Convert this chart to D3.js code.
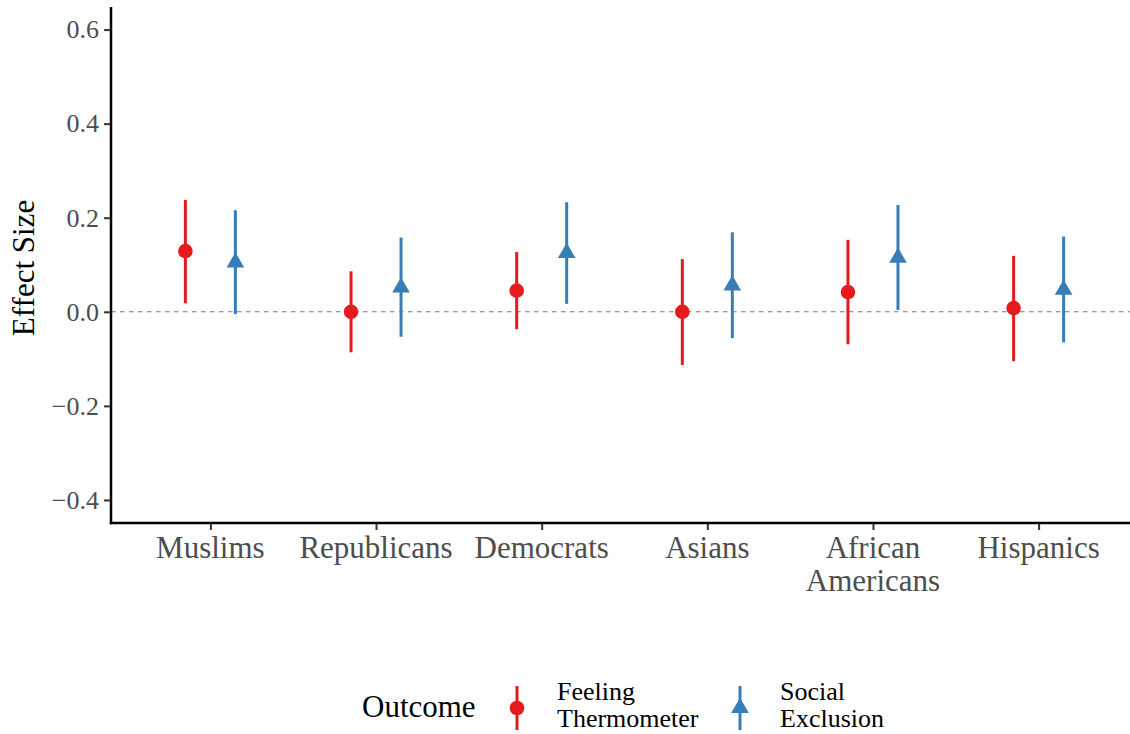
<!DOCTYPE html>
<html>
<head>
<meta charset="utf-8">
<script src="https://cdn.jsdelivr.net/npm/d3@7"></script>
<style>
  html, body { margin: 0; padding: 0; background: #fff; }
  svg text { font-family: "Liberation Serif", "Times New Roman", serif !important; }
</style>
</head>
<body>
<svg id="chart" width="1130" height="734"></svg>
<script>
// Target groups and their display labels (two-line label split on \n)
const categories = ["Muslims", "Republicans", "Democrats", "Asians", "African\nAmericans", "Hispanics"];

// Feeling Thermometer: point estimate and confidence bounds
const ftEstimate = [0.129, 0.000, 0.045, 0.000, 0.042, 0.008];
const ftLower    = [0.018, -0.086, -0.037, -0.113, -0.069, -0.105];
const ftUpper    = [0.238, 0.086, 0.127, 0.112, 0.153, 0.119];

// Social Exclusion: point estimate and confidence bounds
const seEstimate = [0.105, 0.052, 0.125, 0.056, 0.115, 0.047];
const seLower    = [-0.005, -0.053, 0.017, -0.056, 0.004, -0.065];
const seUpper    = [0.216, 0.158, 0.233, 0.169, 0.227, 0.160];

const yTicks = [-0.4, -0.2, 0.0, 0.2, 0.4, 0.6];
const seriesNames = ["Feeling\nThermometer", "Social\nExclusion"];
const seriesColors = ["#E41A1C", "#377EB8"];

const svg = d3.select("#chart");
const W = 1130, H = 734;
const panelLeft = 111, panelRight = 1138, panelTop = 7, panelBottom = 523;
const serif = "'Liberation Serif', 'Times New Roman', serif";

const x = d3.scalePoint().domain(categories).range([panelLeft, panelRight]).padding(0.6);
const y = d3.scaleLinear().domain([-0.449, 0.648]).range([panelBottom, panelTop]);
const dodge = 25;

const series = [
  { name: seriesNames[0], color: seriesColors[0], shape: "circle",   est: ftEstimate, lo: ftLower, hi: ftUpper, off: -dodge },
  { name: seriesNames[1], color: seriesColors[1], shape: "triangle", est: seEstimate, lo: seLower, hi: seUpper, off: dodge }
];

// triangle with centroid at the origin (apex up)
function triPath(r) {
  const hw = r * Math.sqrt(3) / 2;
  return `M0,${-r}L${hw},${r / 2}L${-hw},${r / 2}Z`;
}
const circR = 7.3, triR = 10.2;

// zero reference line
svg.append("line")
  .attr("x1", panelLeft).attr("x2", W)
  .attr("y1", y(0)).attr("y2", y(0))
  .attr("stroke", "#7a7a7a").attr("stroke-width", 1.1)
  .attr("stroke-dasharray", "4.5,4.5");

// intervals and points
series.forEach(s => {
  const g = svg.append("g");
  categories.forEach((c, i) => {
    const cx = x(c) + s.off;
    g.append("line")
      .attr("x1", cx).attr("x2", cx)
      .attr("y1", y(s.lo[i])).attr("y2", y(s.hi[i]))
      .attr("stroke", s.color).attr("stroke-width", 3);
    if (s.shape === "circle") {
      g.append("circle").attr("cx", cx).attr("cy", y(s.est[i])).attr("r", circR).attr("fill", s.color);
    } else {
      g.append("path").attr("d", triPath(triR))
        .attr("transform", `translate(${cx},${y(s.est[i])})`).attr("fill", s.color);
    }
  });
});

// y axis
const yAxis = svg.append("g").attr("transform", `translate(${panelLeft},0)`)
  .call(d3.axisLeft(y).tickValues(yTicks).tickSize(7).tickPadding(5)
    .tickFormat(d => (d < 0 ? "\u2212" : "") + Math.abs(d).toFixed(1)));
yAxis.attr("font-family", serif);
yAxis.select(".domain").remove();
yAxis.selectAll(".tick line").attr("stroke", "#333").attr("stroke-width", 2);
yAxis.selectAll(".tick text").attr("fill", "#4d4d4d").attr("font-size", 26)
  .style("font-family", serif);

// x axis
const xAxis = svg.append("g").attr("transform", `translate(0,${panelBottom})`)
  .call(d3.axisBottom(x).tickSize(7).tickFormat(""));
xAxis.select(".domain").remove();
xAxis.selectAll(".tick line").attr("stroke", "#333").attr("stroke-width", 2);

categories.forEach(c => {
  const lines = c.split("\n");
  const t = svg.append("text")
    .attr("x", x(c)).attr("y", 558)
    .attr("text-anchor", "middle")
    .attr("font-size", 31).attr("fill", "#4d4d4d")
    .style("font-family", serif);
  lines.forEach((ln, k) => {
    t.append("tspan").attr("x", x(c)).attr("dy", k === 0 ? 0 : 33).text(ln);
  });
});

// axis lines
svg.append("line").attr("x1", panelLeft).attr("x2", panelLeft).attr("y1", panelTop).attr("y2", panelBottom + 1.2)
  .attr("stroke", "#000").attr("stroke-width", 2.5);
svg.append("line").attr("x1", panelLeft - 1.2).attr("x2", W).attr("y1", panelBottom).attr("y2", panelBottom)
  .attr("stroke", "#000").attr("stroke-width", 2.5);

// y axis title
svg.append("text")
  .attr("transform", `translate(34,${(panelTop + panelBottom) / 2 + 3}) rotate(-90)`)
  .attr("text-anchor", "middle").attr("font-size", 31).attr("fill", "#000")
  .style("font-family", serif)
  .text("Effect Size");

// legend
const leg = svg.append("g");
leg.append("text").attr("x", 362).attr("y", 717).attr("font-size", 31).attr("fill", "#000")
  .style("font-family", serif).text("Outcome");
const keyX = [517, 740];
series.forEach((s, i) => {
  const kx = keyX[i], ky = 708;
  leg.append("line").attr("x1", kx).attr("x2", kx).attr("y1", 686).attr("y2", 730)
    .attr("stroke", s.color).attr("stroke-width", 3);
  if (s.shape === "circle") {
    leg.append("circle").attr("cx", kx).attr("cy", ky).attr("r", circR).attr("fill", s.color);
  } else {
    leg.append("path").attr("d", triPath(triR)).attr("transform", `translate(${kx},${ky})`).attr("fill", s.color);
  }
  const t = leg.append("text").attr("x", kx + 40).attr("y", 700).attr("font-size", 26).attr("fill", "#000")
    .style("font-family", serif);
  s.name.split("\n").forEach((ln, k) => {
    t.append("tspan").attr("x", kx + 40).attr("dy", k === 0 ? 0 : 27).text(ln);
  });
});
</script>
</body>
</html>
